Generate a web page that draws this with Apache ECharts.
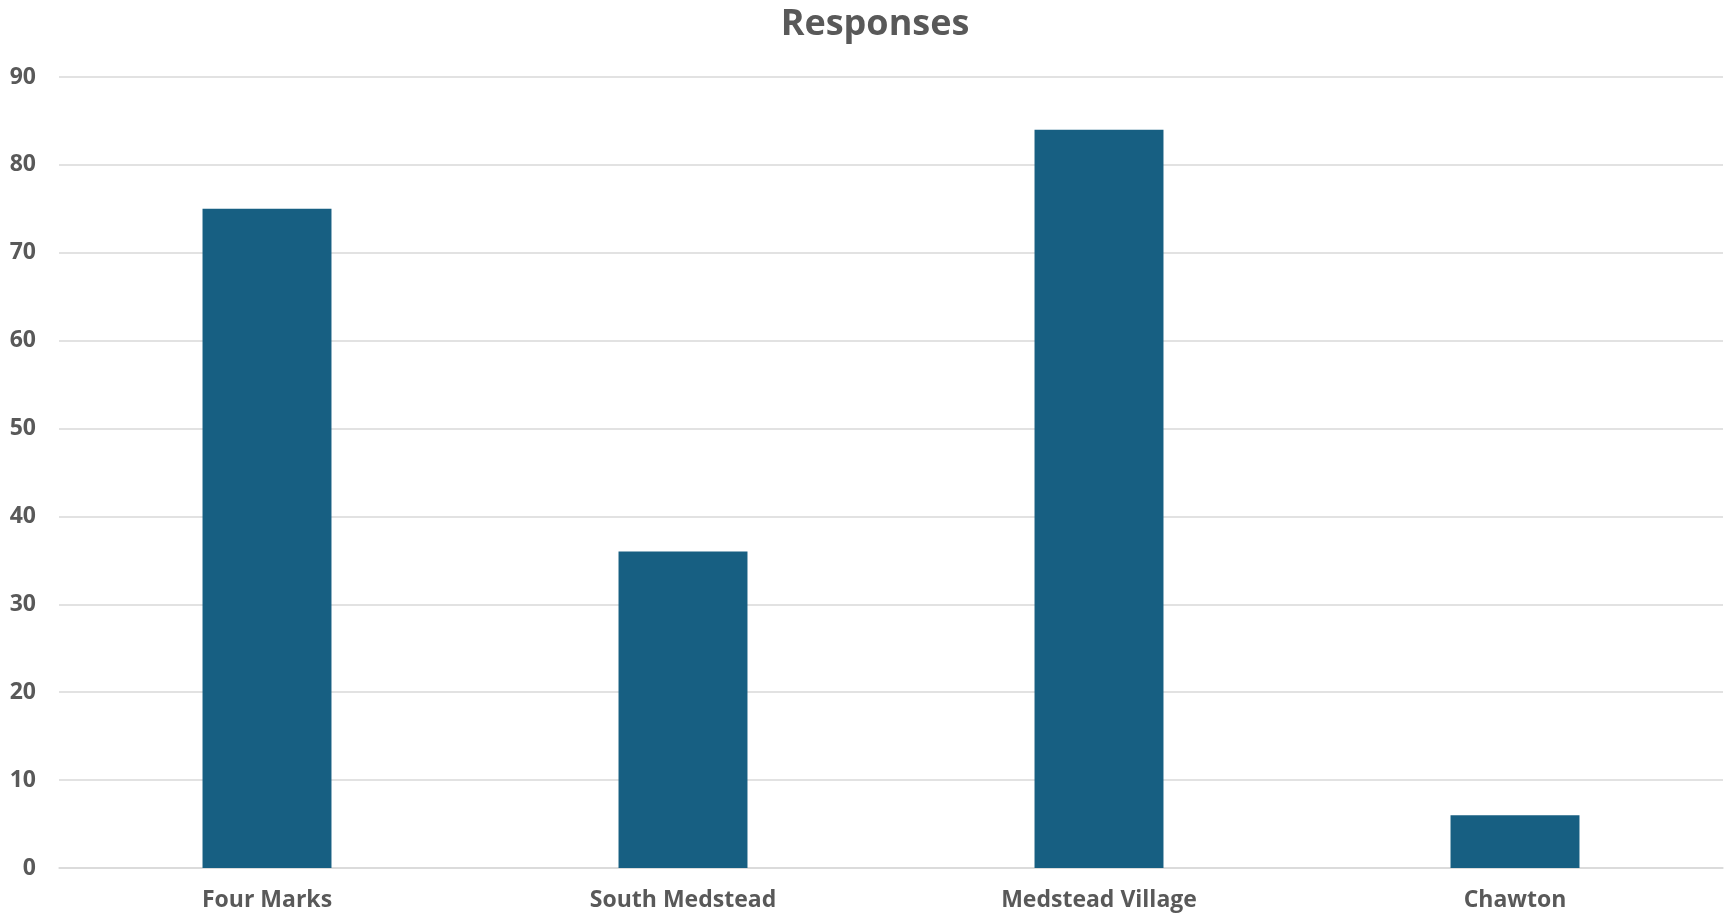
<!DOCTYPE html>
<html><head><meta charset="utf-8">
<script src="https://cdn.jsdelivr.net/npm/echarts@6/dist/echarts.min.js"></script>
<style>html,body{margin:0;padding:0;background:#fff}#c{width:1730px;height:922px}</style>
</head><body><div id="c"></div>
<script>
const categories = ["Four Marks", "South Medstead", "Medstead Village", "Chawton"];
const responses = [75, 36, 84, 6];
const yTicks = {min: 0, max: 90, interval: 10};
const chart = echarts.init(document.getElementById('c'), null, {renderer: 'canvas'});
const FONT = '"Open Sans", sans-serif';
chart.setOption({
  animation: false,
  title: {text: 'Responses', left: 870, top: 2, textAlign: 'center',
    textStyle: {fontFamily: FONT, fontWeight: 'bold', fontSize: 36, color: '#595959'}},
  grid: {left: 59, right: 7, top: 77, bottom: 54, containLabel: false},
  xAxis: {type: 'category', data: categories,
    axisLine: {show: true, lineStyle: {color: '#d9d9d9', width: 1.5}},
    axisTick: {show: false},
    axisLabel: {fontFamily: FONT, fontWeight: 'bold', fontSize: 23, color: '#595959', margin: 21}},
  yAxis: {type: 'value', min: yTicks.min, max: yTicks.max, interval: yTicks.interval,
    axisLine: {show: false}, axisTick: {show: false},
    splitLine: {lineStyle: {color: '#d9d9d9', width: 1.5}},
    axisLabel: {fontFamily: FONT, fontWeight: 'bold', fontSize: 23, color: '#595959', margin: 23}},
  series: [{type: 'bar', data: responses, barWidth: '31%',
    itemStyle: {color: '#175F82'}}]
});
</script></body></html>
